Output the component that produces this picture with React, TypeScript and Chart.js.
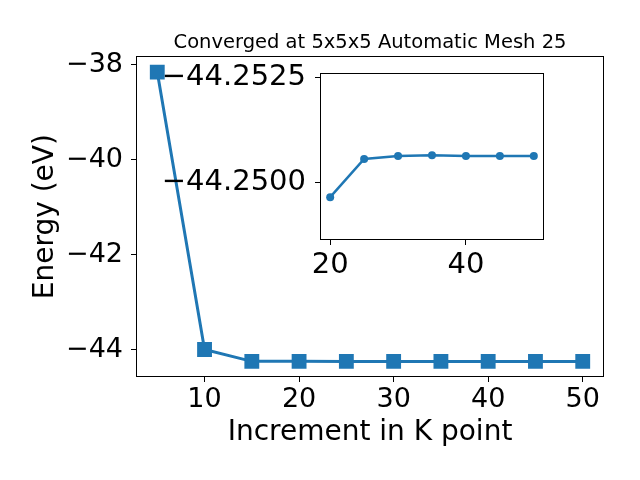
import React, { useEffect, useRef } from "react";
import { Chart, registerables } from "chart.js";

Chart.register(...registerables);

const kPoints = [5, 10, 15, 20, 25, 30, 35, 40, 45, 50];
const energies = [-38.15, -44.0, -44.25, -44.2497, -44.25056, -44.25063, -44.25065, -44.25063, -44.25063, -44.25063];
const insetKPoints = [20, 25, 30, 35, 40, 45, 50];
const insetEnergies = [-44.24965, -44.25056, -44.25063, -44.25065, -44.25063, -44.25063, -44.25063];

const mainXTicks = [10, 20, 30, 40, 50];
const mainYTicks = [-44, -42, -40, -38];
const insetXTicks = [20, 40];
const insetYTicks = [-44.2525, -44.25];
const insetYTickLabels = ["\u221244.2525", "\u221244.2500"];

const titleText = "Converged at 5x5x5 Automatic Mesh 25";
const xTitle = "Increment in K point";
const yTitle = "Energy (eV)";

const BLUE = "#1f77b4";
const FONT = "'DejaVu Sans', sans-serif";

const framePlugin = {
  id: "frame",
  beforeDraw(chart: any) {
    const { ctx, chartArea } = chart;
    ctx.save();
    ctx.fillStyle = "#fff";
    ctx.fillRect(chartArea.left, chartArea.top, chartArea.right - chartArea.left, chartArea.bottom - chartArea.top);
    ctx.restore();
  },
  afterDraw(chart: any) {
    const { ctx, chartArea } = chart;
    ctx.save();
    ctx.strokeStyle = "#000";
    ctx.lineWidth = 1;
    ctx.strokeRect(
      Math.round(chartArea.left) + 0.5,
      Math.round(chartArea.top) + 0.5,
      Math.round(chartArea.right - chartArea.left) - 1,
      Math.round(chartArea.bottom - chartArea.top) - 1
    );
    ctx.restore();
  },
};

const minus = (v: number) => String(v).replace("-", "\u2212");

export default function App() {
  const mainRef = useRef<HTMLCanvasElement>(null);
  const insetRef = useRef<HTMLCanvasElement>(null);

  useEffect(() => {
    const main = new Chart(mainRef.current!, {
      type: "line",
      data: {
        datasets: [
          {
            data: kPoints.map((x, i) => ({ x, y: energies[i] })),
            borderColor: BLUE,
            backgroundColor: BLUE,
            borderWidth: 3,
            pointStyle: "rect",
            pointRadius: 10.5,
            pointBorderWidth: 0,
            tension: 0,
          },
        ],
      },
      options: {
        animation: false,
        responsive: false,
        devicePixelRatio: 1,
        layout: { padding: { left: 0, right: 36, top: 0, bottom: 0 } },
        plugins: {
          legend: { display: false },
          tooltip: { enabled: false },
          title: {
            display: true,
            fullSize: false,
            text: titleText,
            color: "#000",
            font: { family: FONT, size: 19.5, weight: "normal" },
            padding: { top: 31, bottom: 2 },
          },
        },
        scales: {
          x: {
            type: "linear",
            min: 2.75,
            max: 52.25,
            afterBuildTicks: (s: any) => {
              s.ticks = mainXTicks.map((v) => ({ value: v }));
            },
            afterFit: (s: any) => {
              s.height = 103;
            },
            ticks: {
              color: "#000",
              font: { family: FONT, size: 27 },
              padding: 2,
              maxRotation: 0,
              callback: (v: any) => minus(v),
            },
            grid: { display: true, drawOnChartArea: false, drawTicks: true, tickLength: 5, color: "#000" },
            border: { display: false },
            title: {
              display: true,
              text: xTitle,
              color: "#000",
              font: { family: FONT, size: 28 },
              padding: { top: 0, bottom: 30 },
            },
          },
          y: {
            type: "linear",
            min: -44.58,
            max: -37.82,
            afterBuildTicks: (s: any) => {
              s.ticks = mainYTicks.map((v) => ({ value: v }));
            },
            afterFit: (s: any) => {
              s.width = 136;
              s.paddingTop = 0;
              s.paddingBottom = 0;
            },
            ticks: {
              color: "#000",
              font: { family: FONT, size: 27 },
              padding: 8,
              callback: (v: any) => minus(v),
            },
            grid: { display: true, drawOnChartArea: false, drawTicks: true, tickLength: 5, color: "#000" },
            border: { display: false },
            title: {
              display: true,
              text: yTitle,
              color: "#000",
              font: { family: FONT, size: 28 },
              padding: { top: 29, bottom: 0 },
            },
          },
        },
      },
      plugins: [framePlugin],
    } as any);

    const inset = new Chart(insetRef.current!, {
      type: "line",
      data: {
        datasets: [
          {
            data: insetKPoints.map((x, i) => ({ x, y: insetEnergies[i] })),
            borderColor: BLUE,
            backgroundColor: BLUE,
            borderWidth: 2.5,
            pointStyle: "circle",
            pointRadius: 4,
            pointBorderWidth: 0,
            tension: 0,
          },
        ],
      },
      options: {
        animation: false,
        responsive: false,
        devicePixelRatio: 1,
        layout: { padding: { left: 0, right: 6, top: 23, bottom: 0 } },
        plugins: { legend: { display: false }, tooltip: { enabled: false } },
        scales: {
          x: {
            type: "linear",
            min: 18.5,
            max: 51.5,
            afterBuildTicks: (s: any) => {
              s.ticks = insetXTicks.map((v) => ({ value: v }));
            },
            afterFit: (s: any) => {
              s.height = 50;
              s.paddingLeft = 0;
              s.paddingRight = 0;
            },
            ticks: {
              color: "#000",
              font: { family: FONT, size: 29 },
              padding: 3,
              maxRotation: 0,
            },
            grid: { display: true, drawOnChartArea: false, drawTicks: true, tickLength: 5, color: "#000" },
            border: { display: false },
          },
          y: {
            type: "linear",
            reverse: true,
            min: -44.25261,
            max: -44.24863,
            afterBuildTicks: (s: any) => {
              s.ticks = insetYTicks.map((v) => ({ value: v }));
            },
            afterFit: (s: any) => {
              s.width = 170;
              s.paddingTop = 0;
              s.paddingBottom = 0;
            },
            ticks: {
              color: "#000",
              font: { family: FONT, size: 29 },
              padding: 9,
              callback: (_v: any, i: number) => insetYTickLabels[i],
            },
            grid: { display: true, drawOnChartArea: false, drawTicks: true, tickLength: 5, color: "#000" },
            border: { display: false },
          },
        },
      },
      plugins: [framePlugin],
    } as any);

    return () => {
      main.destroy();
      inset.destroy();
    };
  }, []);

  return (
    <div style={{ position: "fixed", left: 0, top: 0, width: 640, height: 480, background: "#fff" }}>
      <canvas ref={mainRef} width={640} height={480} style={{ position: "absolute", left: 0, top: 0 }} />
      <canvas ref={insetRef} width={400} height={240} style={{ position: "absolute", left: 150, top: 50 }} />
    </div>
  );
}
